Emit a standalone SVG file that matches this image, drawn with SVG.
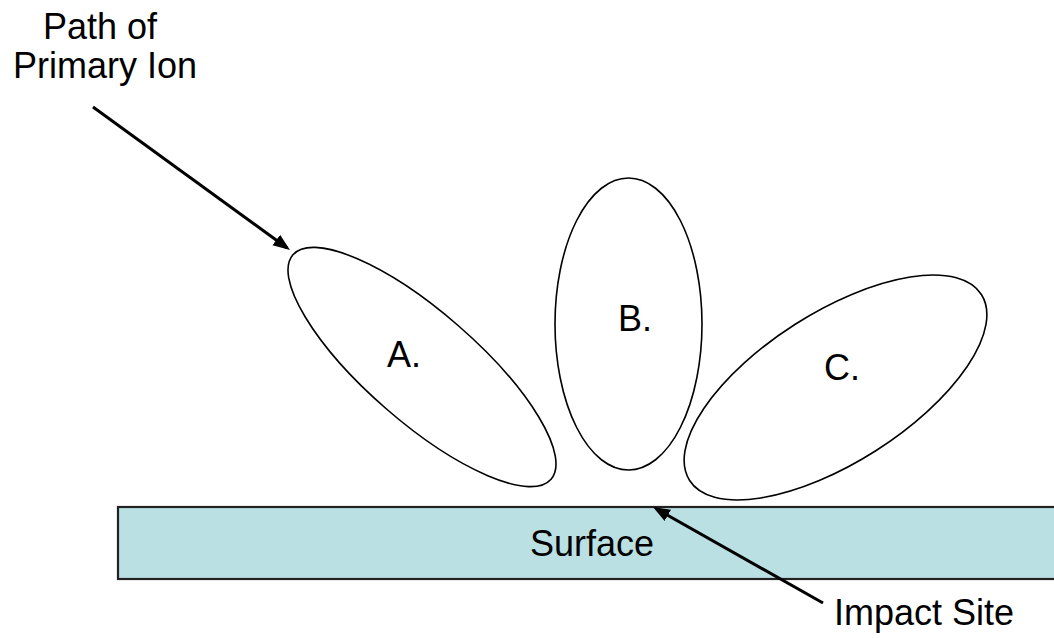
<svg xmlns="http://www.w3.org/2000/svg" width="1054" height="638" viewBox="0 0 1054 638">
  <style>
    .lbl { font-family: "Liberation Sans", Arial, sans-serif; font-size: 36px; fill: #000; }
    .mid { text-anchor: middle; }
    .lobe { fill: #fff; stroke: #000; stroke-width: 1.6; }
    .pointer { stroke: #000; stroke-width: 3; fill: none; marker-end: url(#head); }
  </style>
  <defs>
    <marker id="head" markerUnits="userSpaceOnUse" markerWidth="20" markerHeight="16" refX="13" refY="6.5" orient="auto">
      <path d="M0,0 L17,6.5 L0,13 z" fill="#000"/>
    </marker>
  </defs>

  <rect width="1054" height="638" fill="#fff"/>

  <!-- substrate -->
  <g id="surface">
    <rect x="118" y="507" width="945" height="72" fill="#BBE0E3" stroke="#222" stroke-width="2.2"/>
    <text class="lbl mid" x="592" y="556">Surface</text>
  </g>

  <!-- emission lobes -->
  <g id="lobe-a">
    <ellipse class="lobe" cx="422" cy="367" rx="171" ry="55" transform="rotate(41 422 367)"/>
    <text class="lbl mid" x="404" y="367">A.</text>
  </g>
  <g id="lobe-b">
    <ellipse class="lobe" cx="628.5" cy="324" rx="73.5" ry="146"/>
    <text class="lbl mid" x="635" y="331">B.</text>
  </g>
  <g id="lobe-c">
    <ellipse class="lobe" cx="835.5" cy="387.5" rx="173" ry="75" transform="rotate(-32.5 835.5 387.5)"/>
    <text class="lbl mid" x="842" y="380">C.</text>
  </g>

  <!-- callout labels -->
  <g id="label-primary-ion">
    <text class="lbl mid" x="100" y="39">Path of</text>
    <text class="lbl mid" x="105" y="78">Primary Ion</text>
  </g>
  <g id="label-impact-site">
    <text class="lbl" x="834" y="625">Impact Site</text>
  </g>

  <!-- connectors -->
  <g id="connectors">
    <line class="pointer" x1="93" y1="107" x2="286.8" y2="247.7"/>
    <line class="pointer" x1="823" y1="603" x2="656.5" y2="509"/>
  </g>
</svg>
